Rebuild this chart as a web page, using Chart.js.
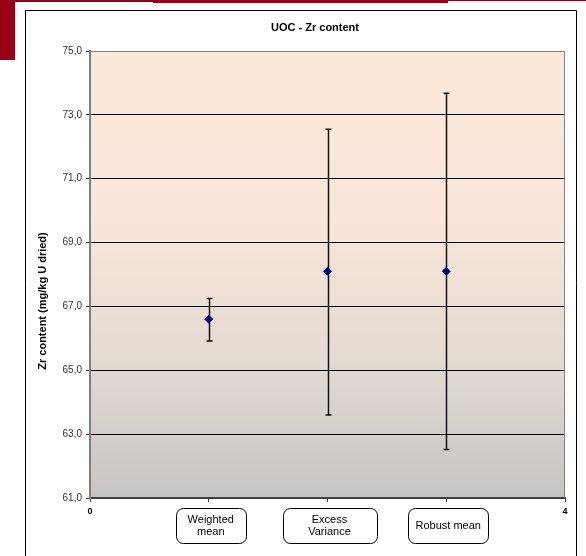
<!DOCTYPE html>
<html>
<head>
<meta charset="utf-8">
<script src="https://cdn.jsdelivr.net/npm/chart.js@4/dist/chart.umd.min.js"></script>
<style>
  body { margin: 0; background: #fff; }
  canvas { display: block; }
</style>
</head>
<body>
<canvas id="chart" width="586" height="556"></canvas>
<script>
// data
const chartTitle = 'UOC - Zr content';
const yAxisTitle = 'Zr content (mg/kg U dried)';
const categories = [['Weighted', 'mean'], ['Excess', 'Variance'], ['Robust mean']];
const xPositions = [1, 2, 3];
const means = [66.6, 68.1, 68.1];
const lowerBounds = [65.92, 63.6, 62.52];
const upperBounds = [67.25, 72.55, 73.68];
const xTickLabels = [0, 4];

// styles (not data)
const labelBoxWidths = [70, 94, 80];

Chart.defaults.font.family = '"Liberation Sans", Arial, sans-serif';

const decorPlugin = {
    id: 'decor',
    beforeDraw(chart) {
        const ctx = chart.ctx;
        const a = chart.chartArea;
        ctx.save();
        // red decorations
        ctx.fillStyle = '#98001a';
        ctx.fillRect(0, 0, 15, 60);
        ctx.fillRect(15, 0, 138, 2);
        ctx.fillRect(153, 0, 295, 3);
        ctx.fillRect(448, 0, 138, 1);
        // frame
        ctx.fillStyle = '#fff';
        ctx.fillRect(25, 10, 551, 546);
        ctx.strokeStyle = '#000';
        ctx.lineWidth = 1;
        ctx.beginPath();
        ctx.moveTo(25.5, 560);
        ctx.lineTo(25.5, 10.5);
        ctx.lineTo(576.5, 10.5);
        ctx.lineTo(576.5, 560);
        ctx.stroke();
        // plot background
        const g = ctx.createLinearGradient(0, a.top, 0, a.bottom);
        g.addColorStop(0, '#fde9d9');
        g.addColorStop(0.35, '#fbe7d9');
        g.addColorStop(0.7, '#e3dad2');
        g.addColorStop(1, '#c6c4c3');
        ctx.fillStyle = g;
        ctx.fillRect(a.left, a.top, a.right - a.left, a.bottom - a.top);
        ctx.restore();
    },
    beforeDatasetsDraw(chart) {
        const ctx = chart.ctx;
        const xs = chart.scales.x, ys = chart.scales.y;
        const a = chart.chartArea;
        ctx.save();
        // right border of plot area
        ctx.strokeStyle = '#808080';
        ctx.lineWidth = 1;
        ctx.beginPath();
        ctx.moveTo(a.right - 0.5, a.top);
        ctx.lineTo(a.right - 0.5, a.bottom);
        ctx.stroke();
        // error bars
        ctx.strokeStyle = '#111';
        ctx.lineWidth = 1.5;
        xPositions.forEach((x, i) => {
            const px = Math.round(xs.getPixelForValue(x)) + 0.5;
            const top = ys.getPixelForValue(upperBounds[i]);
            const bot = ys.getPixelForValue(lowerBounds[i]);
            ctx.beginPath();
            ctx.moveTo(px, top);
            ctx.lineTo(px, bot);
            ctx.moveTo(px - 3, top);
            ctx.lineTo(px + 3, top);
            ctx.moveTo(px - 3, bot);
            ctx.lineTo(px + 3, bot);
            ctx.stroke();
        });
        ctx.restore();
    },
    afterDraw(chart) {
        const ctx = chart.ctx;
        const xs = chart.scales.x;
        ctx.save();
        // title
        ctx.fillStyle = '#000';
        ctx.font = 'bold 11px "Liberation Sans", Arial, sans-serif';
        ctx.textAlign = 'center';
        ctx.textBaseline = 'middle';
        ctx.fillText(chartTitle, 315, 28);
        // y axis title
        ctx.save();
        ctx.translate(43, 301);
        ctx.rotate(-Math.PI / 2);
        ctx.fillText(yAxisTitle, 0, 0);
        ctx.restore();
        // category boxes
        ctx.font = '11px "Liberation Sans", Arial, sans-serif';
        categories.forEach((lines, i) => {
            const cx = xs.getPixelForValue(xPositions[i]) + 2;
            const w = labelBoxWidths[i];
            const x0 = Math.round(cx - w / 2) + 0.5, y0 = 508.5, h = 35;
            ctx.beginPath();
            ctx.roundRect(x0, y0, w, h, 7);
            ctx.fillStyle = '#fff';
            ctx.fill();
            ctx.strokeStyle = '#000';
            ctx.lineWidth = 1;
            ctx.stroke();
            ctx.fillStyle = '#000';
            const mid = y0 + h / 2;
            lines.forEach((t, j) => {
                ctx.fillText(t, cx, mid + (j - (lines.length - 1) / 2) * 12.5);
            });
        });
        ctx.restore();
    }
};

new Chart(document.getElementById('chart'), {
    type: 'scatter',
    data: {
        datasets: [{
            data: xPositions.map((x, i) => ({ x: x, y: means[i] })),
            pointStyle: 'rectRot',
            pointRadius: 4,
            backgroundColor: '#000080',
            borderColor: '#000080'
        }]
    },
    options: {
        responsive: false,
        animation: false,
        events: [],
        layout: { padding: { left: 25, top: 51, right: 21, bottom: 0 } },
        plugins: { legend: { display: false }, tooltip: { enabled: false } },
        scales: {
            x: {
                type: 'linear',
                min: 0,
                max: 4,
                afterFit: s => { s.height = 58; },
                ticks: {
                    stepSize: 1,
                    maxRotation: 0,
                    padding: 4,
                    color: '#000',
                    font: { size: 9, weight: 'bold' },
                    callback: v => xTickLabels.includes(v) ? String(v) : ''
                },
                grid: { drawOnChartArea: false, drawTicks: true, tickLength: 4, color: '#404040' },
                border: { color: '#404040', width: 2 }
            },
            y: {
                min: 61,
                max: 75,
                afterFit: s => { s.width = 65; },
                ticks: {
                    stepSize: 2,
                    padding: 4,
                    color: '#333',
                    font: { size: 10 },
                    callback: v => v.toFixed(1).replace('.', ',')
                },
                grid: {
                    color: c => (c.tick && c.tick.value === 75) ? '#808080' : '#000',
                    tickColor: '#333',
                    tickLength: 4,
                    lineWidth: 1
                },
                border: { color: '#7f7f7f', width: 2 }
            }
        }
    },
    plugins: [decorPlugin]
});
</script>
</body>
</html>
